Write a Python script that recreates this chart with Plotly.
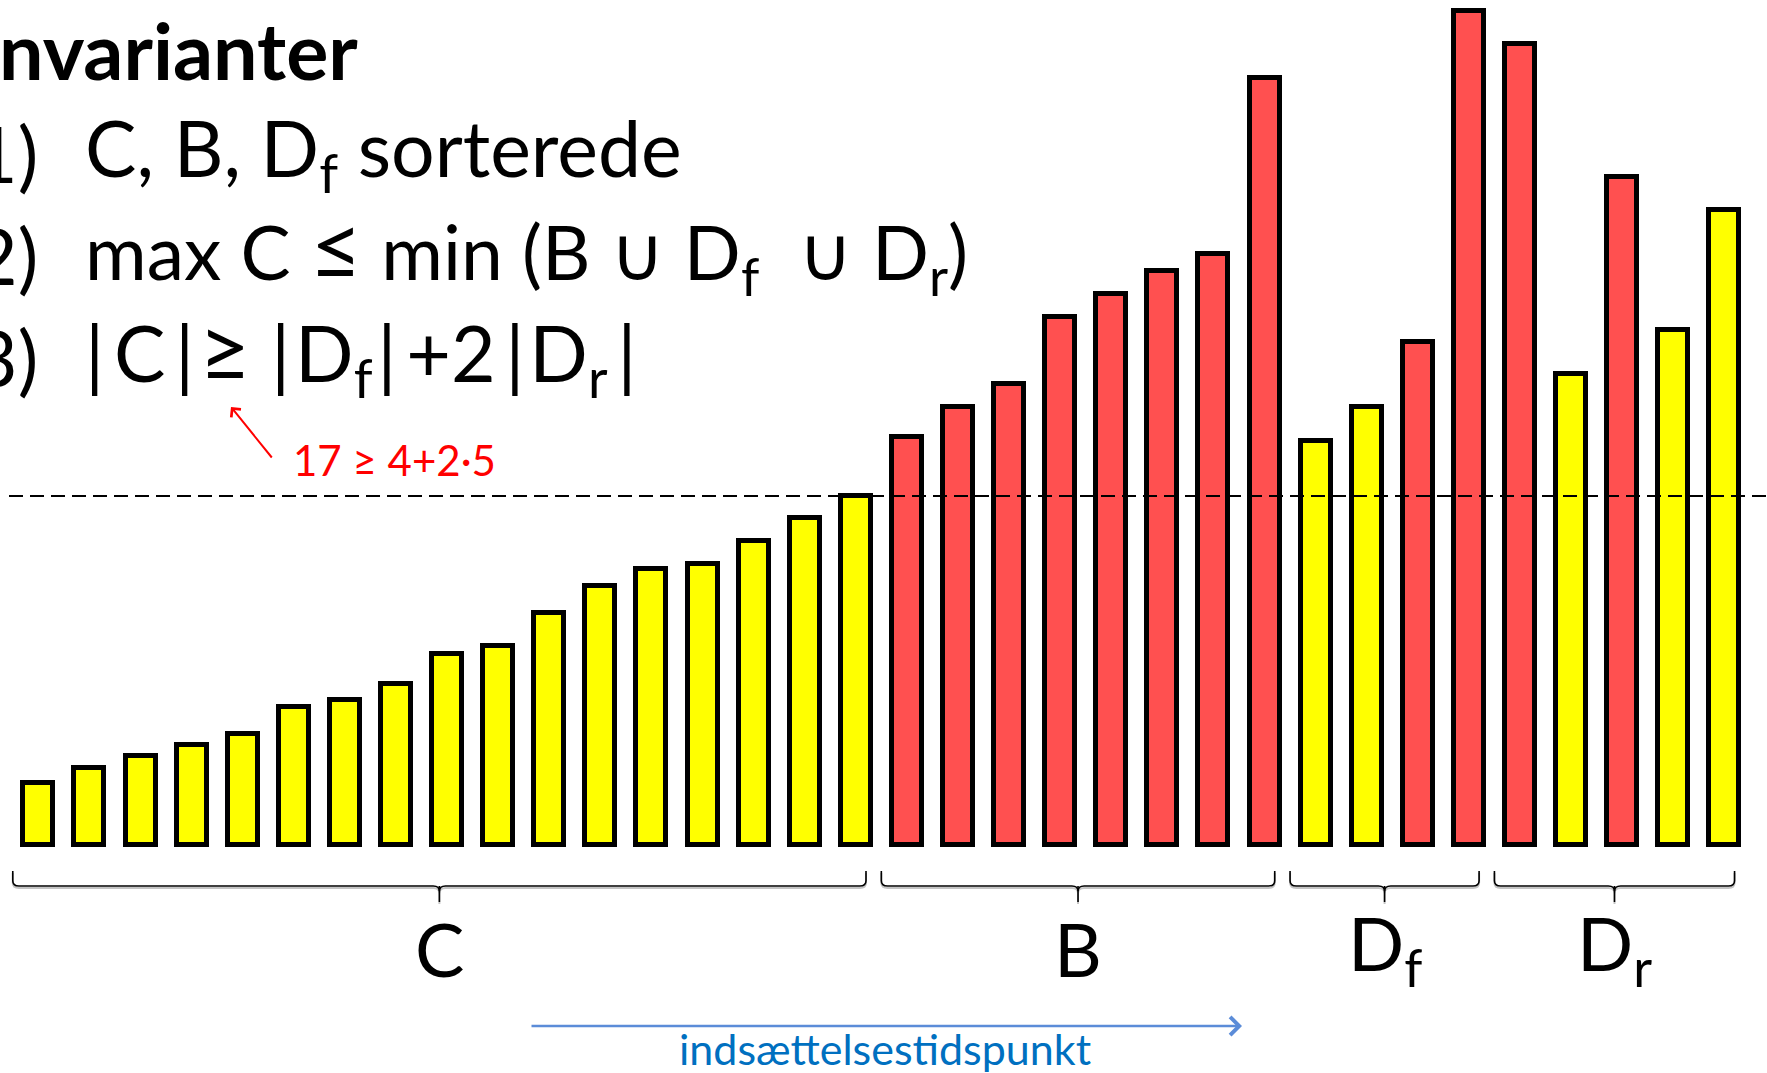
import plotly.graph_objects as go

# ---------------- data ----------------
group_labels = ["C", "B", "D<sub>f</sub>", "D<sub>r</sub>"]
C_values = [55, 69, 79, 89, 99, 123, 129, 143, 170, 177, 206, 230, 245, 250, 270, 290, 310]
B_values = [362, 389, 409, 469, 489, 510, 525, 681]
Df_values = [359, 389, 447, 740]
Dr_values = [711, 418, 593, 457, 564]
# colour class of each element: "y" = yellow, "r" = red
C_kinds = ["y", "y", "y", "y", "y", "y", "y", "y", "y", "y", "y", "y", "y", "y", "y", "y", "y"]
B_kinds = ["r", "r", "r", "r", "r", "r", "r", "r"]
Df_kinds = ["y", "y", "r", "r"]
Dr_kinds = ["r", "y", "r", "y", "y"]

title_text = "nvarianter"
item_numbers = ["1)", "2)", "3)"]
BIG = '<span style="font-size:90px">{}</span>'
HS = "\u200a"
TS = "\u2009"
item_texts = [
    "C, B, D<sub>f</sub> sorterede",
    "max C " + BIG.format("\u2264") + " min (B \u222a D<sub>f</sub>\u00a0 \u222a D<sub>r</sub>)",
    "|" + TS + "C" + TS + "|" + HS + BIG.format("\u2265") + " |" + HS + "D<sub>f</sub>" + HS + "|"
    + TS + "+2" + TS + "|" + HS + "D<sub>r</sub>" + TS + "|",
]
item_sizes = [77, 75, 77]
example_text = "17 \u2265 4+2\u00b75"
time_label = "inds\u00e6ttelsestidspunkt"

# ---------------- build ----------------
groups = [C_values, B_values, Df_values, Dr_values]
kinds = C_kinds + B_kinds + Df_kinds + Dr_kinds
values = C_values + B_values + Df_values + Dr_values
xs = list(range(len(values)))
kind_color = {"y": "#FFFF00", "r": "#FF5050"}
colors = [kind_color[k] for k in kinds]

W, H = 1767, 1073
def px(x):
    return x / W
def py(y):
    return 1 - y / H

fig = go.Figure()
fig.add_trace(go.Bar(
    x=xs, y=values, width=0.587,
    marker=dict(color=colors, line=dict(color="black", width=5)),
    hoverinfo="skip",
))

shapes = []
# dashed threshold line at max C
shapes.append(dict(type="line", xref="paper", yref="y", x0=px(9), x1=1,
                   y0=max(C_values), y1=max(C_values), layer="above",
                   line=dict(color="black", width=2, dash="14px,7px")))

# braces under each group
annotations = []
start = 0
y_end, y_h, y_tick = py(871), py(886), py(902)
off = 2 / H
for g, lab in zip(groups, group_labels):
    a = start - 0.5
    b = start + len(g) - 1 + 0.2
    m = (a + b) / 2
    r = 0.12
    for dy, col, lw in ((off, "#C4C4C4", 2), (0, "black", 1.6)):
        ye, yh, yt = y_end - dy, y_h - dy, y_tick - dy
        rv = (ye - yh) * 0.35
        path = (f"M {a},{ye} L {a},{yh + rv} Q {a},{yh} {a + r},{yh} "
                f"L {m - r},{yh} Q {m},{yh} {m},{yh - rv} "
                f"Q {m},{yh} {m + r},{yh} L {b - r},{yh} Q {b},{yh} {b},{yh + rv} L {b},{ye}")
        tick = f"M {m},{yh} L {m},{yt}"
        for pth in (path, tick):
            shapes.append(dict(type="path", xref="x", yref="paper", path=pth,
                               line=dict(color=col, width=lw)))
    annotations.append(dict(x=m, xref="x", y=py(948), yref="paper", text=lab,
                            showarrow=False, xanchor="center", yanchor="middle",
                            font=dict(family="Lato", size=74, color="black")))
    start += len(g)

# blue time arrow
annotations.append(dict(x=px(1242), y=py(1026), xref="paper", yref="paper",
                        ax=-712, ay=0, text="", showarrow=True, arrowhead=4,
                        arrowsize=1.4, arrowwidth=2.5, arrowcolor="#5B8CD8"))
annotations.append(dict(x=px(885), y=py(1048), xref="paper", yref="paper",
                        text=time_label, showarrow=False, xanchor="center", yanchor="middle",
                        font=dict(family="Lato", size=43, color="#0070C0")))

# title and invariants
annotations.append(dict(x=px(-3), y=py(49), xref="paper", yref="paper", text="<b>" + title_text + "</b>",
                        showarrow=False, xanchor="left", yanchor="middle",
                        font=dict(family="Lato", size=79, color="black")))
num_y = [153, 255, 357]
line_y = [153, 249, 351]
for num, txt, ny, yy, fs in zip(item_numbers, item_texts, num_y, line_y, item_sizes):
    annotations.append(dict(x=px(40), y=py(ny), xref="paper", yref="paper", text=num,
                            showarrow=False, xanchor="right", yanchor="middle",
                            font=dict(family="Lato", size=77, color="black")))
    annotations.append(dict(x=px(83), y=py(yy), xref="paper", yref="paper", text=txt,
                            showarrow=False, xanchor="left", yanchor="middle",
                            font=dict(family="Lato", size=fs, color="black")))

# red example
annotations.append(dict(x=px(231), y=py(407), xref="paper", yref="paper",
                        ax=42, ay=52, text="", showarrow=True, arrowhead=4,
                        arrowsize=1.2, arrowwidth=2, arrowcolor="#FF0000"))
annotations.append(dict(x=px(291), y=py(460), xref="paper", yref="paper", text=example_text,
                        showarrow=False, xanchor="left", yanchor="middle",
                        font=dict(family="Lato", size=42, color="#FF0000")))

n = len(values)
fig.update_layout(
    width=W, height=H,
    margin=dict(l=0, r=0, t=0, b=0),
    paper_bgcolor="white", plot_bgcolor="white",
    showlegend=False,
    xaxis=dict(visible=False, range=[-0.75, n - 1 + 0.835]),
    yaxis=dict(visible=False, range=[-202, 750]),
    shapes=shapes,
    annotations=annotations,
    bargap=0,
)

fig.write_html("out.html", config={"displayModeBar": False},
               post_script="document.body.style.margin='0';document.body.style.overflow='hidden';")
